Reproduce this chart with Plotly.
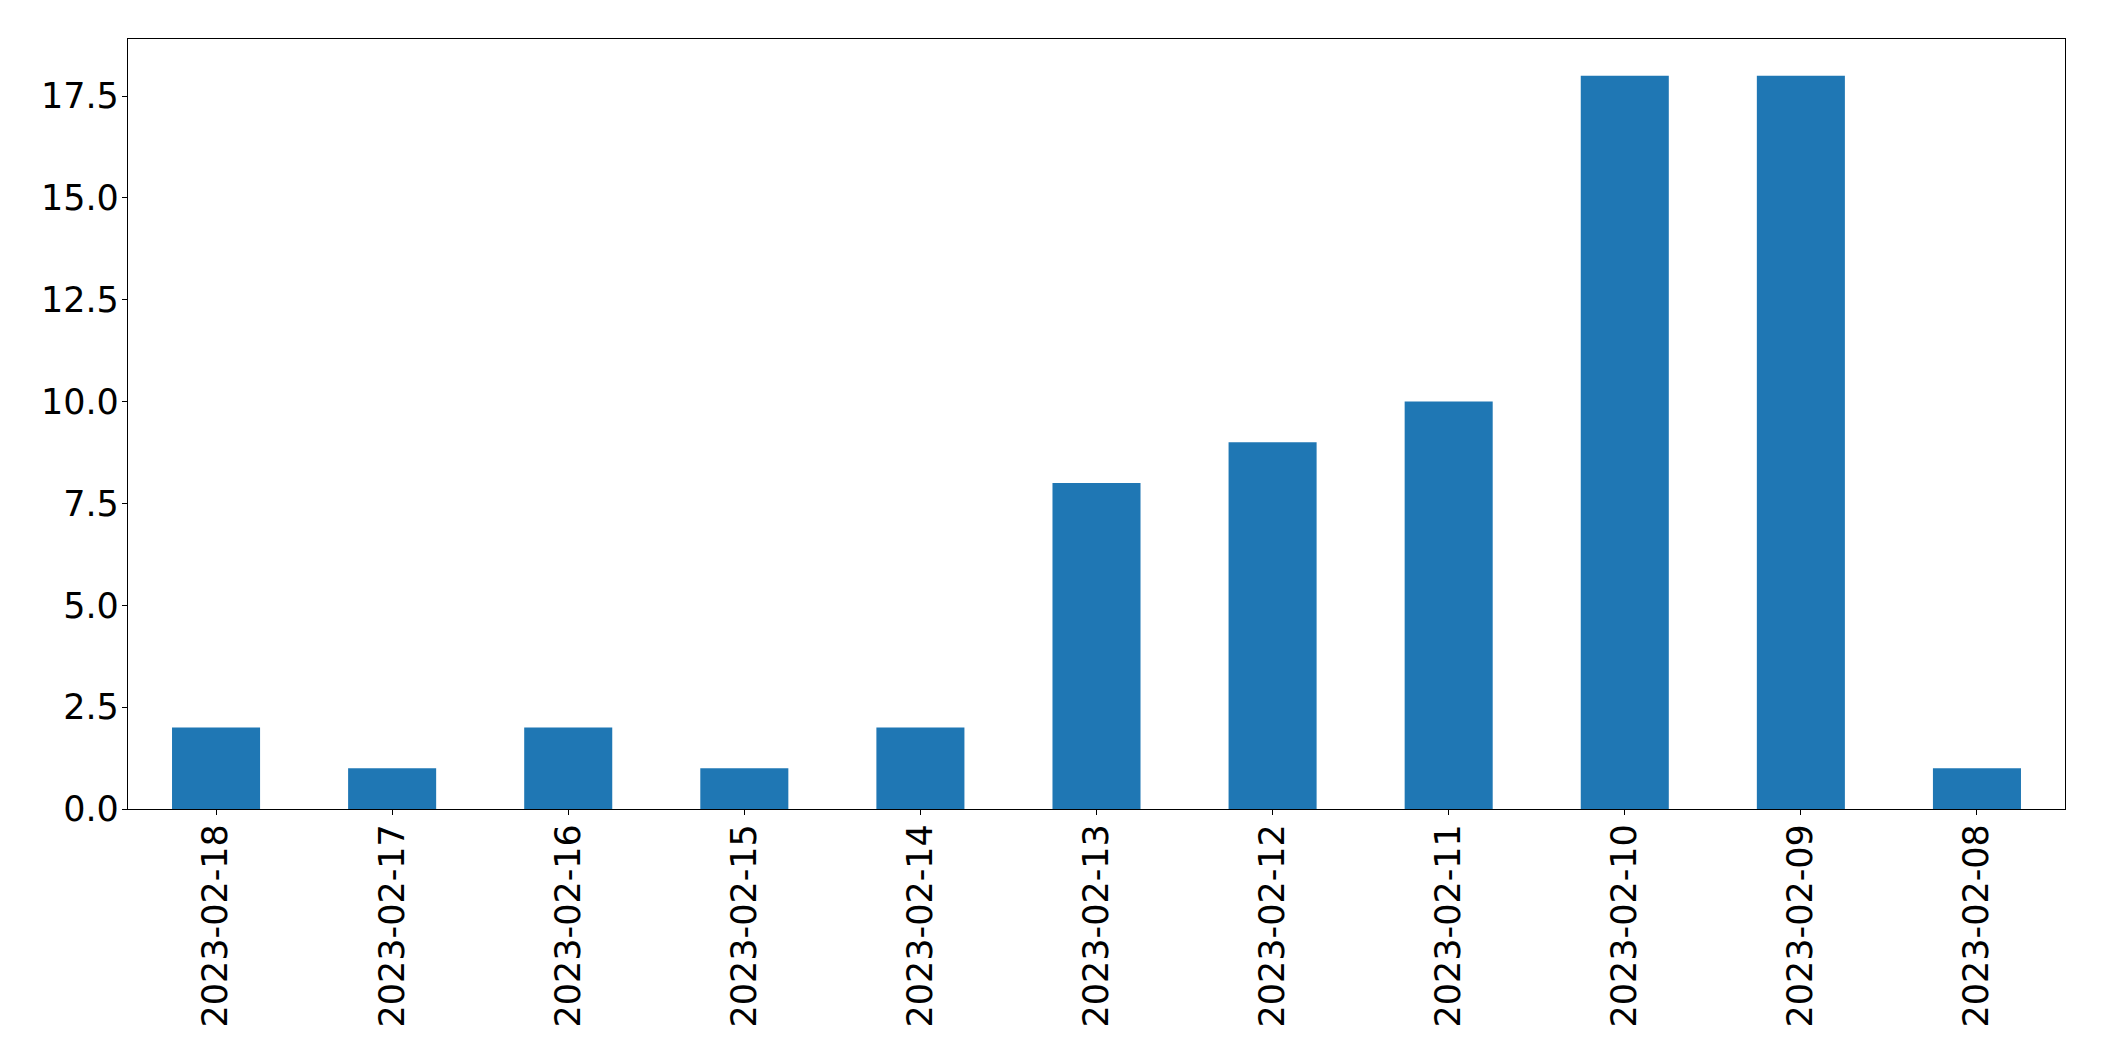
import plotly.graph_objects as go

dates = ["2023-02-18", "2023-02-17", "2023-02-16", "2023-02-15", "2023-02-14",
         "2023-02-13", "2023-02-12", "2023-02-11", "2023-02-10", "2023-02-09",
         "2023-02-08"]
counts = [2, 1, 2, 1, 2, 8, 9, 10, 18, 18, 1]
y_ticks = [0, 2.5, 5, 7.5, 10, 12.5, 15, 17.5]
y_tick_labels = ["0.0", "2.5", "5.0", "7.5", "10.0", "12.5", "15.0", "17.5"]

fig = go.Figure(go.Bar(x=list(range(len(dates))), y=counts, width=0.5,
                       marker=dict(color="#1f77b4", line=dict(width=0))))

axis_common = dict(showline=True, linecolor="black", linewidth=1.3, mirror=True,
                   ticks="outside", ticklen=5, tickwidth=1.3, tickcolor="black",
                   showgrid=False, zeroline=False,
                   tickfont=dict(family="DejaVu Sans", size=35, color="black"))

fig.update_layout(
    width=2096, height=1053,
    margin=dict(l=120, r=39, t=31, b=252),
    paper_bgcolor="white", plot_bgcolor="white",
    showlegend=False,
    xaxis=dict(range=[-0.5, 10.5], tickmode="array",
               tickvals=list(range(len(dates))), ticktext=dates,
               tickangle=-90, ticklabelstandoff=-5, **axis_common),
    yaxis=dict(range=[0, 18.9], tickmode="array", tickvals=y_ticks,
               ticktext=y_tick_labels, ticklabelstandoff=-4, **axis_common),
)

fig.write_html("out.html")
